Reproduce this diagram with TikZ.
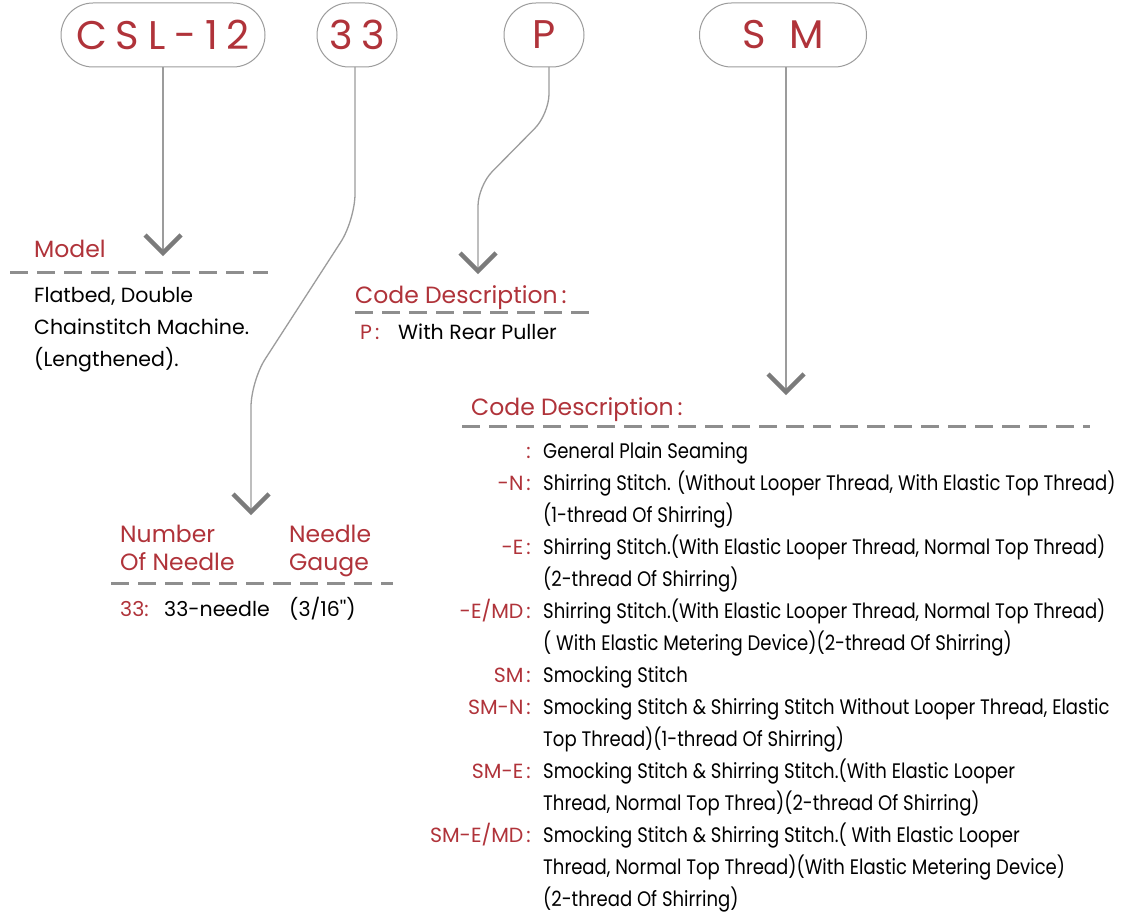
\documentclass[tikz,border=0pt]{standalone}
\usepackage{fontspec}
\setmainfont{Poppins}
\newfontfamily\condfont{Poppins}[FakeStretch=0.86]
\newfontfamily\pillfont{Poppins}[LetterSpace=22]
\usetikzlibrary{calc}
\definecolor{cred}{HTML}{B0333A}
\definecolor{linegray}{HTML}{9C9C9C}
\definecolor{chevgray}{HTML}{7B7B7B}
\definecolor{dashgray}{HTML}{8E8E8E}
\newcommand\mychev[1]{\draw[chevron] ($(#1)+(-18,-18)$) -- (#1) -- ($(#1)+(18,-18)$);}
\begin{document}
\begin{tikzpicture}[x=1pt,y=-1pt,
  pill/.style={draw=linegray, line width=1pt, rounded corners=32pt, minimum height=64pt, inner sep=0pt, text=cred, font=\pillfont\fontsize{40}{40}\selectfont},
  conn/.style={draw=linegray, line width=1.3pt},
  chevron/.style={draw=chevgray, line width=4.5pt, line join=miter},
  dline/.style={draw=dashgray, line width=3pt, dash pattern=on 18pt off 9pt},
  head/.style={anchor=base west, inner sep=0pt, text=cred, font=\fontsize{23.5}{23.5}\selectfont},
  body/.style={anchor=base west, inner sep=0pt, text=black, font=\fontsize{20.5}{20.5}\selectfont},
  code/.style={anchor=base east, inner sep=0pt, text=cred, font=\fontsize{20.5}{20.5}\selectfont},
  desc/.style={anchor=base west, inner sep=0pt, text=black, font=\condfont\fontsize{21}{21}\selectfont}]
\useasboundingbox (0,0) rectangle (1130,920);
\fill[white] (0,0) rectangle (1130,920);

% pills
\node[pill, minimum width=204pt] (csl) at (163,35) {CSL-12};
\node[pill, minimum width=80pt] (n33) at (357,35) {33};
\node[pill, minimum width=80pt] (p) at (544,35) {P};
\node[pill, minimum width=167pt] (sm) at (783,35) {S\hspace{24pt}M};

% chevron apex coordinates
\coordinate (a1) at (163,253);
\coordinate (a2) at (251,512);
\coordinate (a3) at (478,271);
\coordinate (a4) at (786,392);

% connectors
\draw[conn] (csl.south -| a1) -- (a1);
\draw[conn, rounded corners=26pt] (355,67) -- (355,220) -- (251,381) -- (a2);
\draw[conn, rounded corners=20pt] (549,67) -- (549,114) -- (478,186) -- (a3);
\draw[conn] (sm.south -| a4) -- (a4);
\mychev{a1}
\mychev{a2}
\mychev{a3}
\mychev{a4}

% Model block
\node[head] (model) at (34,258) {Model};
\draw[dline] (10,272) -- (268,272);
\node[body] (m1) at (34,302) {Flatbed, Double};
\node[body] (m2) at (34,334) {Chainstitch Machine.};
\node[body] (m3) at (34,366) {(Lengthened).};

% P block
\node[head] (pcd) at (355,303) {Code Description\hspace{4pt}:};
\draw[dline] (355,312) -- (597,312);
\node[code, anchor=base west] (pcode) at (360,339) {P\hspace{3pt}:};
\node[body] (pdesc) at (398,339) {With Rear Puller};

% Needle block
\node[head] (nn1) at (120,542) {Number};
\node[head] (nn2) at (120,570) {Of Needle};
\node[head] (ng1) at (289,542) {Needle};
\node[head] (ng2) at (289,570) {Gauge};
\draw[dline] (111,583) -- (393,583);
\node[code, anchor=base west] (ncode) at (120,616) {33:};
\node[body] (ndesc) at (164,616) {33-needle};
\node[body] (ngauge) at (289,616) {(3/16\textquotesingle\textquotesingle)};

% SM block
\node[head] (smcd) at (471,415) {Code Description\hspace{4pt}:};
\draw[dline] (462,426) -- (1090,426);

\node[code] (c1) at (531,458) {:};
\node[desc] (d1) at (543,458) {General Plain Seaming};
\node[code] (c2) at (531,490) {-N\hspace{3pt}:};
\node[desc] (d2) at (543,490) {Shirring Stitch. (Without Looper Thread, With Elastic Top Thread)};
\node[desc] (d2b) at (543,522) {(1-thread Of Shirring)};
\node[code] (c3) at (531,554) {-E\hspace{3pt}:};
\node[desc] (d3) at (543,554) {Shirring Stitch.(With Elastic Looper Thread, Normal Top Thread)};
\node[desc] (d3b) at (543,586) {(2-thread Of Shirring)};
\node[code] (c4) at (531,618) {-E/MD\hspace{3pt}:};
\node[desc] (d4) at (543,618) {Shirring Stitch.(With Elastic Looper Thread, Normal Top Thread)};
\node[desc] (d4b) at (543,650) {( With Elastic Metering Device)(2-thread Of Shirring)};
\node[code] (c5) at (531,682) {SM\hspace{3pt}:};
\node[desc] (d5) at (543,682) {Smocking Stitch};
\node[code] (c6) at (531,714) {SM-N\hspace{3pt}:};
\node[desc] (d6) at (543,714) {Smocking Stitch \& Shirring Stitch Without Looper Thread, Elastic};
\node[desc] (d6b) at (543,746) {Top Thread)(1-thread Of Shirring)};
\node[code] (c7) at (531,778) {SM-E\hspace{3pt}:};
\node[desc] (d7) at (543,778) {Smocking Stitch \& Shirring Stitch.(With Elastic Looper};
\node[desc] (d7b) at (543,810) {Thread, Normal Top Threa)(2-thread Of Shirring)};
\node[code] (c8) at (531,842) {SM-E/MD\hspace{3pt}:};
\node[desc] (d8) at (543,842) {Smocking Stitch \& Shirring Stitch.( With Elastic Looper};
\node[desc] (d8b) at (543,874) {Thread, Normal Top Thread)(With Elastic Metering Device)};
\node[desc] (d8c) at (543,906) {(2-thread Of Shirring)};
\end{tikzpicture}
\end{document}
